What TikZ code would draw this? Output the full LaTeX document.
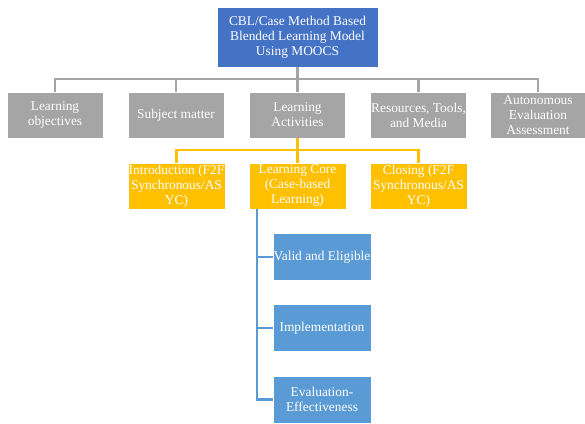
\documentclass[tikz,border=0pt]{standalone}
\usepackage{fontspec}
\setmainfont{Liberation Serif}
\usepackage{tikz}
\usetikzlibrary{positioning}
\definecolor{topblue}{RGB}{68, 114, 196}
\definecolor{boxgray}{RGB}{165, 165, 165}
\definecolor{boxgold}{RGB}{255, 192, 0}
\definecolor{stepblue}{RGB}{91, 155, 213}

\begin{document}
\begin{tikzpicture}[x=1pt, y=1pt,
    box/.style={draw=white, line width=0.6pt, text=white, align=center, inner sep=0.5pt,
      font=\fontsize{13.4}{15}\selectfont},
    graybox/.style={box, fill=boxgray, minimum width=96pt, minimum height=46pt},
    goldbox/.style={box, fill=boxgold, minimum width=97pt, minimum height=46pt},
    subbox/.style={box, fill=stepblue, minimum width=98pt, minimum height=47pt},
    grayline/.style={boxgray, line width=2.4pt},
    goldline/.style={boxgold, line width=2.4pt},
    blueline/.style={stepblue, line width=2.4pt}]
        \useasboundingbox (0,0) rectangle (585,423);

        % Model title
        \node[box, fill=topblue, minimum width=161pt, minimum height=60pt] (model) at (297.5,386)
          {CBL/Case Method Based\\Blended Learning Model\\Using MOOCS};

        % Components
        \node[graybox] (obj) at (55,308)    {Learning\\objectives};
        \node[graybox] (subj) at (176,308)  {Subject matter};
        \node[graybox] (act) at (297.5,308) {Learning\\Activities};
        \node[graybox] (res) at (418.5,308) {Resources, Tools,\\and Media};
        \node[graybox] (eval) at (538,308)  {Autonomous\\Evaluation\\Assessment};

        % Activity phases
        \node[goldbox] (intro) at (176.5,237) {Introduction (F2F\\Synchronous/AS\\YC)};
        \node[goldbox] (core) at (297.5,237)  {Learning Core\\(Case-based\\Learning)};
        \node[goldbox] (close) at (418.5,237) {Closing (F2F\\Synchronous/AS\\YC)};

        % Core steps
        \node[subbox] (valid) at (322,166) {Valid and Eligible};
        \node[subbox] (impl) at (322,95)   {Implementation};
        \node[subbox] (effect) at (322,23.5) {Evaluation-\\Effectiveness};

        % Gray tree
        \coordinate (gbus) at (297.5,344);
        \draw[grayline] (model.south) -- (gbus);
        \foreach \n in {obj, subj, act, res, eval}
          \draw[grayline] (gbus) -| (\n.north);

        % Gold tree
        \coordinate (ybus) at (297.5,273);
        \draw[goldline] (act.south) -- (ybus);
        \foreach \n in {intro, core, close}
          \draw[goldline] (ybus) -| (\n.north);

        % Blue spine
        \coordinate (spine) at ([xshift=8pt]core.south west);
        \foreach \n in {valid, impl, effect}
          \draw[blueline] (spine) |- (\n.west);
      \end{tikzpicture}
\end{document}
